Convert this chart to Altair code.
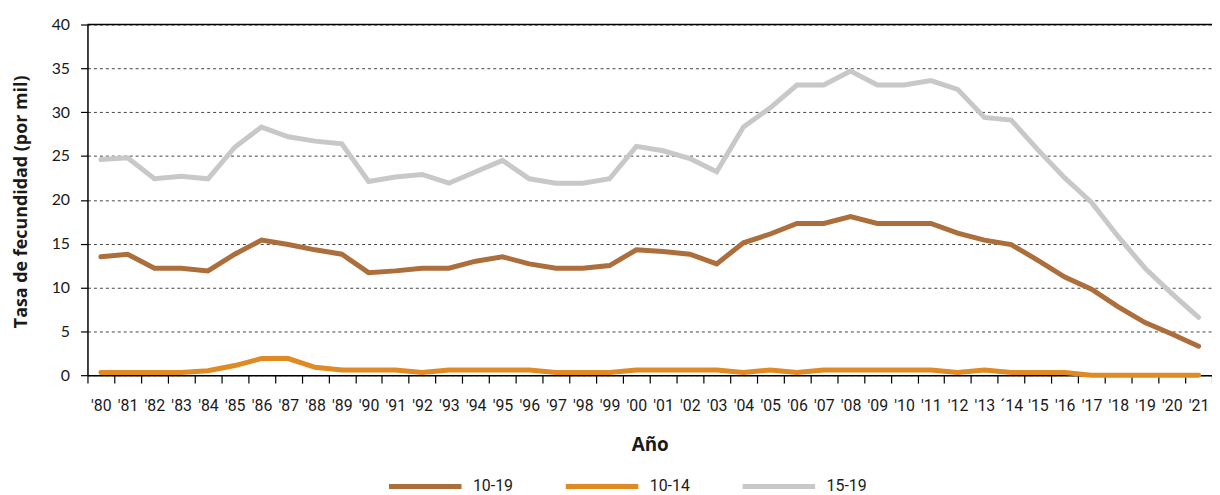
import altair as alt
import pandas as pd

years = ["'80", "'81", "'82", "'83", "'84", "'85", "'86", "'87", "'88", "'89",
         "'90", "'91", "'92", "'93", "'94", "'95", "'96", "'97", "'98", "'99",
         "'00", "'01", "'02", "'03", "'04", "'05", "'06", "'07", "'08", "'09",
         "'10", "'11", "'12", "'13", "´14", "'15", "'16", "'17", "'18", "'19",
         "'20", "'21"]

s_10_19 = [13.5, 13.8, 12.2, 12.2, 11.9, 13.8, 15.4, 14.9, 14.3, 13.8,
           11.7, 11.9, 12.2, 12.2, 13.0, 13.5, 12.7, 12.2, 12.2, 12.5,
           14.3, 14.1, 13.8, 12.7, 15.1, 16.1, 17.3, 17.3, 18.1, 17.3,
           17.3, 17.3, 16.2, 15.4, 14.9, 13.1, 11.2, 9.8, 7.8, 6.0,
           4.7, 3.3]

s_10_14 = [0.3, 0.3, 0.3, 0.3, 0.5, 1.1, 1.9, 1.9, 0.9, 0.6,
           0.6, 0.6, 0.3, 0.6, 0.6, 0.6, 0.6, 0.3, 0.3, 0.3,
           0.6, 0.6, 0.6, 0.6, 0.3, 0.6, 0.3, 0.6, 0.6, 0.6,
           0.6, 0.6, 0.3, 0.6, 0.3, 0.3, 0.3, 0.0, 0.0, 0.0,
           0.0, 0.0]

s_15_19 = [24.6, 24.8, 22.4, 22.7, 22.4, 26.0, 28.3, 27.2, 26.7, 26.4,
           22.1, 22.6, 22.9, 21.9, 23.2, 24.5, 22.4, 21.9, 21.9, 22.4,
           26.1, 25.6, 24.7, 23.2, 28.3, 30.5, 33.1, 33.1, 34.7, 33.1,
           33.1, 33.6, 32.6, 29.4, 29.1, 25.7, 22.5, 19.7, 15.8, 12.2,
           9.3, 6.6]

series_names = ["10-19", "10-14", "15-19"]
series_colors = ["#AC6E3A", "#E08A24", "#C8C8C8"]
y_ticks = [0, 5, 10, 15, 20, 25, 30, 35, 40]
y_top = [40]

rows = []
for name, vals in zip(series_names, [s_10_19, s_10_14, s_15_19]):
    for yr, v in zip(years, vals):
        rows.append({"Año": yr, "serie": name, "valor": v})
df = pd.DataFrame(rows)

y_title = "Tasa de fecundidad (por mil)"

lines = alt.Chart(df).mark_line(strokeWidth=5, strokeCap="round").encode(
    x=alt.X("Año:O", sort=years,
            scale=alt.Scale(type="band", paddingInner=0, paddingOuter=0),
            axis=alt.Axis(title="Año", labelAngle=0, tickBand="extent",
                          grid=False, domainColor="black", domainWidth=1.5,
                          tickColor="black", tickSize=8, tickWidth=1.2,
                          labelFont="Roboto", labelFontSize=16, labelColor="#1a1a1a",
                          labelPadding=15, labelOverlap=False,
                          titleFont="Open Sans", titleFontSize=19, titleFontWeight="bold",
                          titleColor="#1a1a1a", titleY=70, titleBaseline="middle")),
    y=alt.Y("valor:Q", title=y_title,
            scale=alt.Scale(domain=[0, 40], nice=False),
            axis=alt.Axis(values=y_ticks, grid=True, gridDash=[3, 3], gridColor="#444444",
                          gridWidth=1, domainColor="black", domainWidth=1.5,
                          tickColor="black", tickSize=7, tickWidth=1.2,
                          labelFont="Lato", labelFontSize=16, labelColor="#1a1a1a",
                          labelPadding=11,
                          titleFont="Open Sans", titleFontSize=18, titleFontWeight="bold",
                          titleColor="#1a1a1a", titleX=-66, titleY=178,
                          titleBaseline="middle")),
    color=alt.Color("serie:N", sort=series_names,
                    scale=alt.Scale(domain=series_names, range=series_colors),
                    legend=alt.Legend(title=None, orient="none", direction="horizontal",
                                      legendX=301, legendY=426,
                                      symbolType="stroke", symbolSize=5329,
                                      symbolStrokeWidth=5,
                                      labelFont="Roboto", labelFontSize=16,
                                      labelColor="#1a1a1a", labelOffset=9,
                                      columnPadding=42)),
    order=alt.Order("serie:N"),
)

top_rule = alt.Chart(pd.DataFrame({"valor": y_top})).mark_rule(
    color="black", strokeWidth=1.5
).encode(y=alt.Y("valor:Q", title=y_title))

chart = alt.layer(lines, top_rule).properties(
    width=1132, height=353,
    autosize=alt.AutoSizeParams(type="none"),
    padding={"left": 80, "top": 15, "right": 0, "bottom": 119},
).configure_view(stroke=None)

chart.save("out.html", embed_options={"renderer": "svg", "actions": False})
